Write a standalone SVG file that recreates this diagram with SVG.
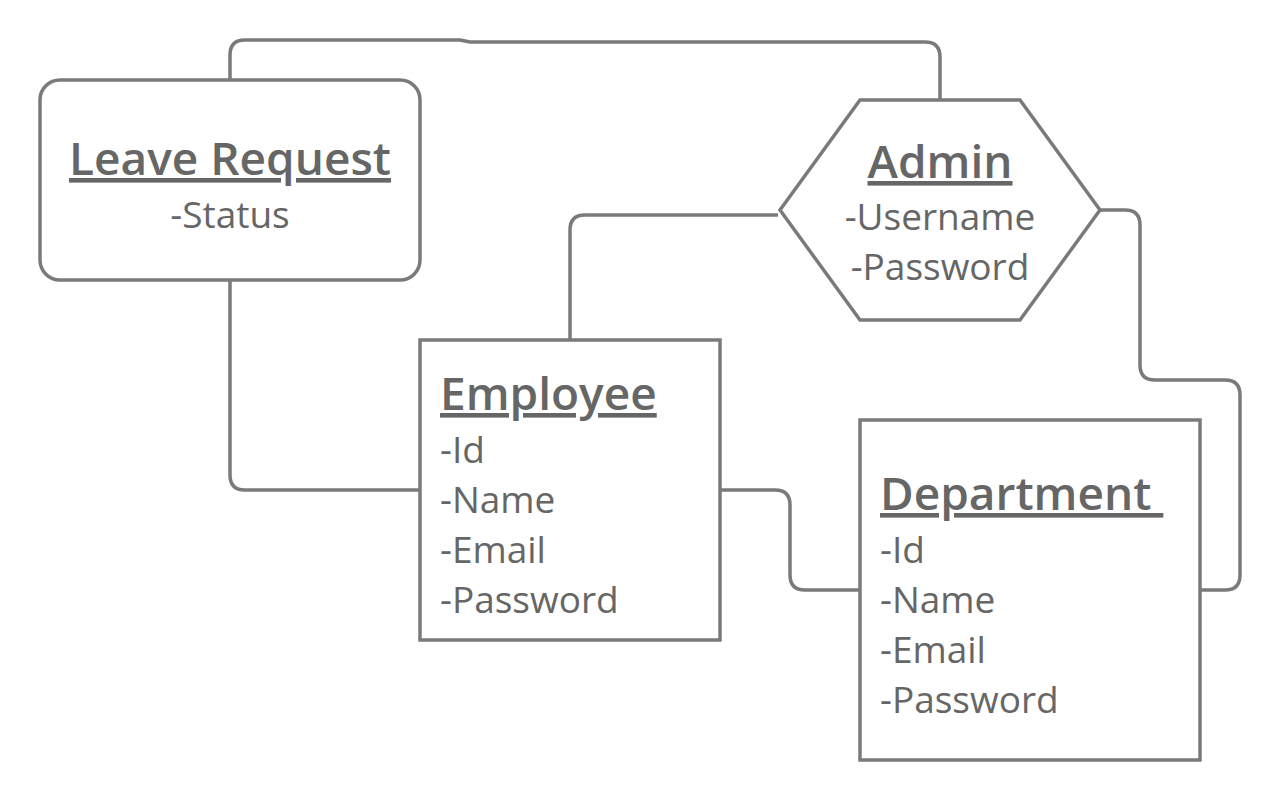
<svg xmlns="http://www.w3.org/2000/svg" width="1280" height="801" viewBox="0 0 1280 801">
<style>
.shape{fill:#fff;stroke:#7a7a7a;stroke-width:3.5}
.conn{fill:none;stroke:#7a7a7a;stroke-width:3.5;stroke-linejoin:round}
.title{font-family:"Open Sans","Noto Sans",sans-serif;font-weight:600;font-size:46px;fill:#666;text-decoration:underline;white-space:pre}
.attr{font-family:"Open Sans","Noto Sans",sans-serif;font-size:37px;fill:#666}
</style>
<rect width="1280" height="801" fill="#fff"/>
<g id="connectors">
<path class="conn" d="M230,80 V55 Q230,40 245,40 H460 L470,42 H925 Q940,42 940,57 V100"/>
<path class="conn" d="M230,280 V475 Q230,490 245,490 H420"/>
<path class="conn" d="M570,340 V230 Q570,215 585,215 H778"/>
<path class="conn" d="M1100,210 H1125 Q1140,210 1140,225 V365 Q1140,380 1155,380 H1225 Q1240,380 1240,395 V575 Q1240,590 1225,590 H1200"/>
<path class="conn" d="M720,490 H775 Q790,490 790,505 V575 Q790,590 805,590 H860"/>
</g>
<g id="leave-request">
<rect class="shape" x="40" y="80" width="380" height="200" rx="20"/>
<text class="title" x="230" y="175" text-anchor="middle">Leave Request</text>
<text class="attr" x="230" y="228" text-anchor="middle">-Status</text>
</g>
<g id="admin">
<polygon class="shape" points="780,210 860,100 1020,100 1100,210 1020,320 860,320"/>
<text class="title" x="940" y="178" text-anchor="middle">Admin</text>
<text class="attr" x="940" y="230" text-anchor="middle">-Username</text>
<text class="attr" x="940" y="280" text-anchor="middle">-Password</text>
</g>
<g id="employee">
<rect class="shape" x="420" y="340" width="300" height="300"/>
<text class="title" x="440" y="410">Employee</text>
<text class="attr" x="440" y="463">-Id</text>
<text class="attr" x="440" y="513">-Name</text>
<text class="attr" x="440" y="563">-Email</text>
<text class="attr" x="440" y="613">-Password</text>
</g>
<g id="department">
<rect class="shape" x="860" y="420" width="340" height="340"/>
<text class="title" x="880" y="510">Department </text>
<text class="attr" x="880" y="563">-Id</text>
<text class="attr" x="880" y="613">-Name</text>
<text class="attr" x="880" y="663">-Email</text>
<text class="attr" x="880" y="713">-Password</text>
</g>
</svg>
